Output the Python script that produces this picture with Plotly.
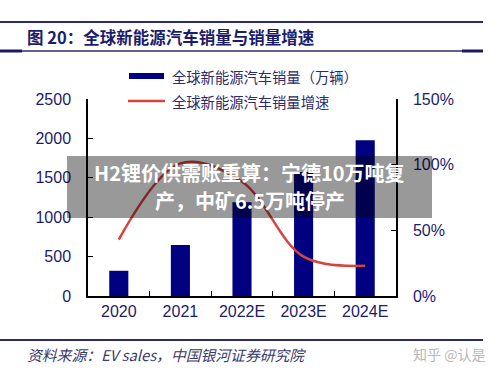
import plotly.graph_objects as go

# ---- data ----
categories = ["2020", "2021", "2022E", "2023E", "2024E"]
sales = [320, 648, 1190, 1575, 1975]          # 万辆
growth = [0.43, 1.01, 0.87, 0.30, 0.23]       # 增速
left_ticks = [0, 500, 1000, 1500, 2000, 2500]
right_ticks = [0, 0.5, 1.0, 1.5]

title_text = "图 20：全球新能源汽车销量与销量增速"
legend_bar = "全球新能源汽车销量（万辆）"
legend_line = "全球新能源汽车销量增速"
source_text = "资料来源：EV sales，中国银河证券研究院"
watermark = "知乎 @认是"
overlay_1 = "H2锂价供需账重算：宁德10万吨复"
overlay_2 = "产，中矿6.5万吨停产"

W, H = 500, 376
L, R, T, B = 88, 396, 99, 296   # plot area in px

def px(x):
    return (x - L) / (R - L)

def py(y):
    return (B - y) / (B - T)

NAVY = "#1c1c6c"
BAR = "#000080"
RED = "#d7443f"
CJK = "Noto Sans CJK SC"
NUM = "Liberation Sans, Arial"

fig = go.Figure()
fig.add_trace(go.Bar(x=categories, y=sales, marker_color=BAR, marker_line_width=0,
                     name=legend_bar, yaxis="y"))
fig.add_trace(go.Scatter(x=categories, y=growth, mode="lines", name=legend_line,
                         line=dict(color=RED, width=2.5, shape="spline", smoothing=1.0),
                         yaxis="y2"))

shapes = []
# header lines
shapes.append(dict(type="line", xref="paper", yref="paper", x0=px(0), x1=px(483), y0=py(22), y1=py(22),
                   line=dict(color="#2a2a6e", width=2)))
shapes.append(dict(type="line", xref="paper", yref="paper", x0=px(0), x1=px(483), y0=py(51), y1=py(51),
                   line=dict(color="#2a2a6e", width=1.5)))
shapes.append(dict(type="line", xref="paper", yref="paper", x0=px(0), x1=px(22), y0=py(51), y1=py(51),
                   line=dict(color="#1a1a60", width=3)))
shapes.append(dict(type="line", xref="paper", yref="paper", x0=px(462), x1=px(483), y0=py(51), y1=py(51),
                   line=dict(color="#1a1a60", width=3)))
# footer line
shapes.append(dict(type="line", xref="paper", yref="paper", x0=px(0), x1=px(483), y0=py(340), y1=py(340),
                   line=dict(color="#2a2a6e", width=2)))
# legend swatches
shapes.append(dict(type="rect", xref="paper", yref="paper", x0=px(129), x1=px(164), y0=py(79), y1=py(73),
                   fillcolor=BAR, line=dict(width=0)))
shapes.append(dict(type="line", xref="paper", yref="paper", x0=px(128), x1=px(165), y0=py(101), y1=py(101),
                   line=dict(color=RED, width=2.5)))
# overlay box
shapes.append(dict(type="rect", xref="paper", yref="paper", x0=px(67), x1=px(432), y0=py(218), y1=py(156),
                   fillcolor="rgba(0,0,0,0.40)", line=dict(width=0), layer="above"))

annotations = [
    dict(text=f"<b>{title_text}</b>", x=px(25), y=py(37), xref="paper", yref="paper",
         xanchor="left", yanchor="middle", showarrow=False,
         font=dict(family=CJK, size=16.5, color=NAVY)),
    dict(text=legend_bar, x=px(170), y=py(76), xref="paper", yref="paper",
         xanchor="left", yanchor="middle", showarrow=False,
         font=dict(family=CJK, size=14.3, color="#2b2b6b")),
    dict(text=legend_line, x=px(170), y=py(101), xref="paper", yref="paper",
         xanchor="left", yanchor="middle", showarrow=False,
         font=dict(family=CJK, size=14.3, color="#2b2b6b")),
    dict(text=f"<i>{source_text}</i>", x=px(25), y=py(354), xref="paper", yref="paper",
         xanchor="left", yanchor="middle", showarrow=False,
         font=dict(family=CJK, size=14.8, color="#3a3a6a")),
    dict(text=watermark, x=px(487), y=py(354), xref="paper", yref="paper",
         xanchor="right", yanchor="middle", showarrow=False,
         font=dict(family=CJK, size=14, color="#b8b8b8")),
    dict(text=f"<b>{overlay_1}</b>", x=px(249.5), y=py(172), xref="paper", yref="paper",
         xanchor="center", yanchor="middle", showarrow=False,
         font=dict(family=CJK, size=20, color="white")),
    dict(text=f"<b>{overlay_2}</b>", x=px(249.5), y=py(200), xref="paper", yref="paper",
         xanchor="center", yanchor="middle", showarrow=False,
         font=dict(family=CJK, size=20, color="white")),
]

fig.update_layout(
    width=W, height=H,
    margin=dict(l=L, r=W - R, t=T, b=H - B, pad=0),
    paper_bgcolor="white", plot_bgcolor="white",
    showlegend=False,
    bargap=0.69,
    xaxis=dict(type="category", showline=True, linecolor="black", linewidth=1.5,
               ticks="inside", tickson="boundaries", ticklen=5, tickcolor="black",
               tickfont=dict(family=NUM, size=16, color=NAVY), showgrid=False,
               zeroline=False),
    yaxis=dict(range=[0, 2500], tickvals=left_ticks, showline=True, linecolor="black", linewidth=1.5,
               ticks="inside", ticklen=5, tickcolor="black", showgrid=False, zeroline=False,
               tickfont=dict(family=NUM, size=16, color=NAVY), ticklabelstandoff=12),
    yaxis2=dict(range=[0, 1.5], tickvals=right_ticks, tickformat=".0%", overlaying="y", side="right",
                showline=True, linecolor="black", linewidth=1.5, ticks="inside", ticklen=5,
                tickcolor="black", showgrid=False, zeroline=False,
                tickfont=dict(family=NUM, size=16, color=NAVY), ticklabelstandoff=12),
    shapes=shapes,
    annotations=annotations,
)

fig.write_html("out.html")
